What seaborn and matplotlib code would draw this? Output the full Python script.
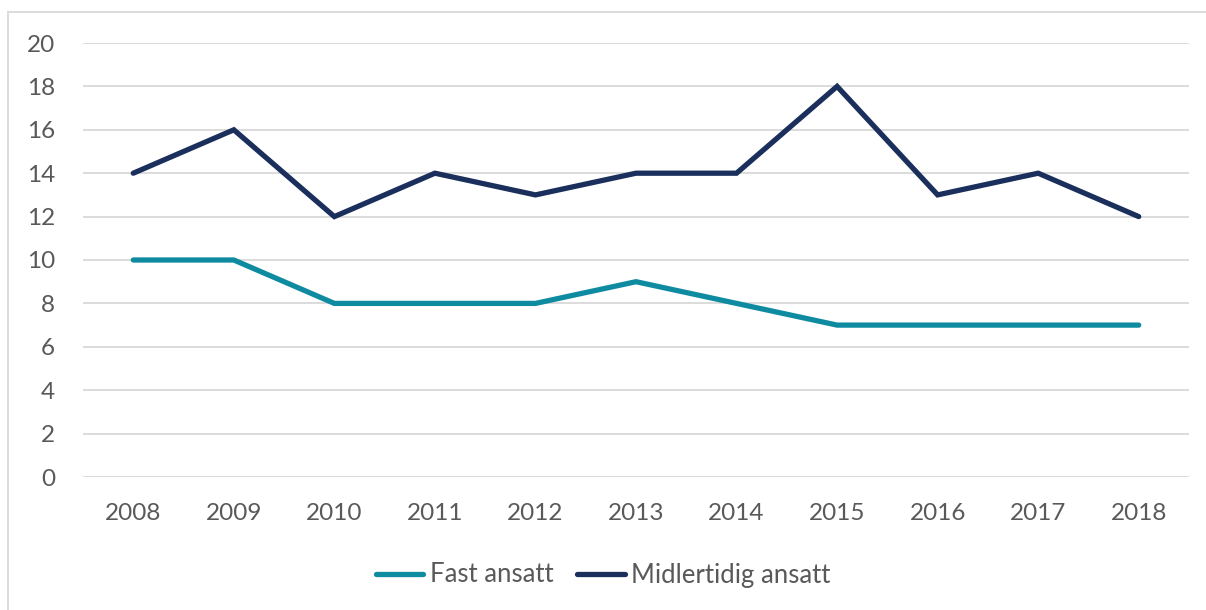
import matplotlib
matplotlib.use("Agg")
import matplotlib.pyplot as plt
import seaborn as sns
import pandas as pd
from matplotlib.patches import Rectangle

years = ["2008", "2009", "2010", "2011", "2012", "2013", "2014", "2015", "2016", "2017", "2018"]
fast_ansatt = [10, 10, 8, 8, 8, 9, 8, 7, 7, 7, 7]
midlertidig_ansatt = [14, 16, 12, 14, 13, 14, 14, 18, 13, 14, 12]
series_names = ["Fast ansatt", "Midlertidig ansatt"]
y_ticks = [0, 2, 4, 6, 8, 10, 12, 14, 16, 18, 20]

df = pd.DataFrame({
    "År": years * 2,
    "Antall": fast_ansatt + midlertidig_ansatt,
    "Gruppe": [series_names[0]] * len(years) + [series_names[1]] * len(years),
})

sns.set_theme(style="white")
plt.rcParams["font.family"] = ["Lato", "DejaVu Sans"]

W, H = 1206, 610
fig = plt.figure(figsize=(W / 100, H / 100), dpi=100)
ax = fig.add_axes([83 / W, 1 - 477 / H, (1189 - 83) / W, (477 - 43) / H])

palette = {series_names[0]: "#0F8BA1", series_names[1]: "#1B2F5C"}
sns.lineplot(data=df, x="År", y="Antall", hue="Gruppe", palette=palette,
             linewidth=3.8, ax=ax, sort=False)

for line in ax.get_lines():
    line.set_solid_capstyle("round")
    line.set_solid_joinstyle("miter")

ax.set_xlim(-0.5, len(years) - 0.5)
ax.set_ylim(0, 20)
ax.set_yticks(y_ticks)
ax.yaxis.grid(True, color="#D9D9D9", linewidth=1.3)
ax.set_axisbelow(True)
for s in ax.spines.values():
    s.set_visible(False)
ax.set_xlabel("")
ax.set_ylabel("")
ax.tick_params(axis="both", length=0, labelsize=17.5, colors="#595959")
ax.tick_params(axis="y", pad=20)
ax.tick_params(axis="x", pad=19)

leg = ax.legend(loc="center", bbox_to_anchor=((603 - 83) / (1189 - 83), 1 - (575 - 43) / (477 - 43)),
                ncol=2, frameon=False, fontsize=18.5, handlelength=1.85,
                handletextpad=0.25, columnspacing=0.93)
for t in leg.get_texts():
    t.set_color("#595959")
for h in leg.get_lines():
    h.set_linewidth(3.8)
    h.set_solid_capstyle("round")

# outer chart frame
fig.patches.append(Rectangle((8 / W, -0.05), 1.1, 1 - 12 / H + 0.05,
                             transform=fig.transFigure, fill=False,
                             edgecolor="#D9D9D9", linewidth=1.3))

fig.savefig("out.png", dpi=100, facecolor="white")
